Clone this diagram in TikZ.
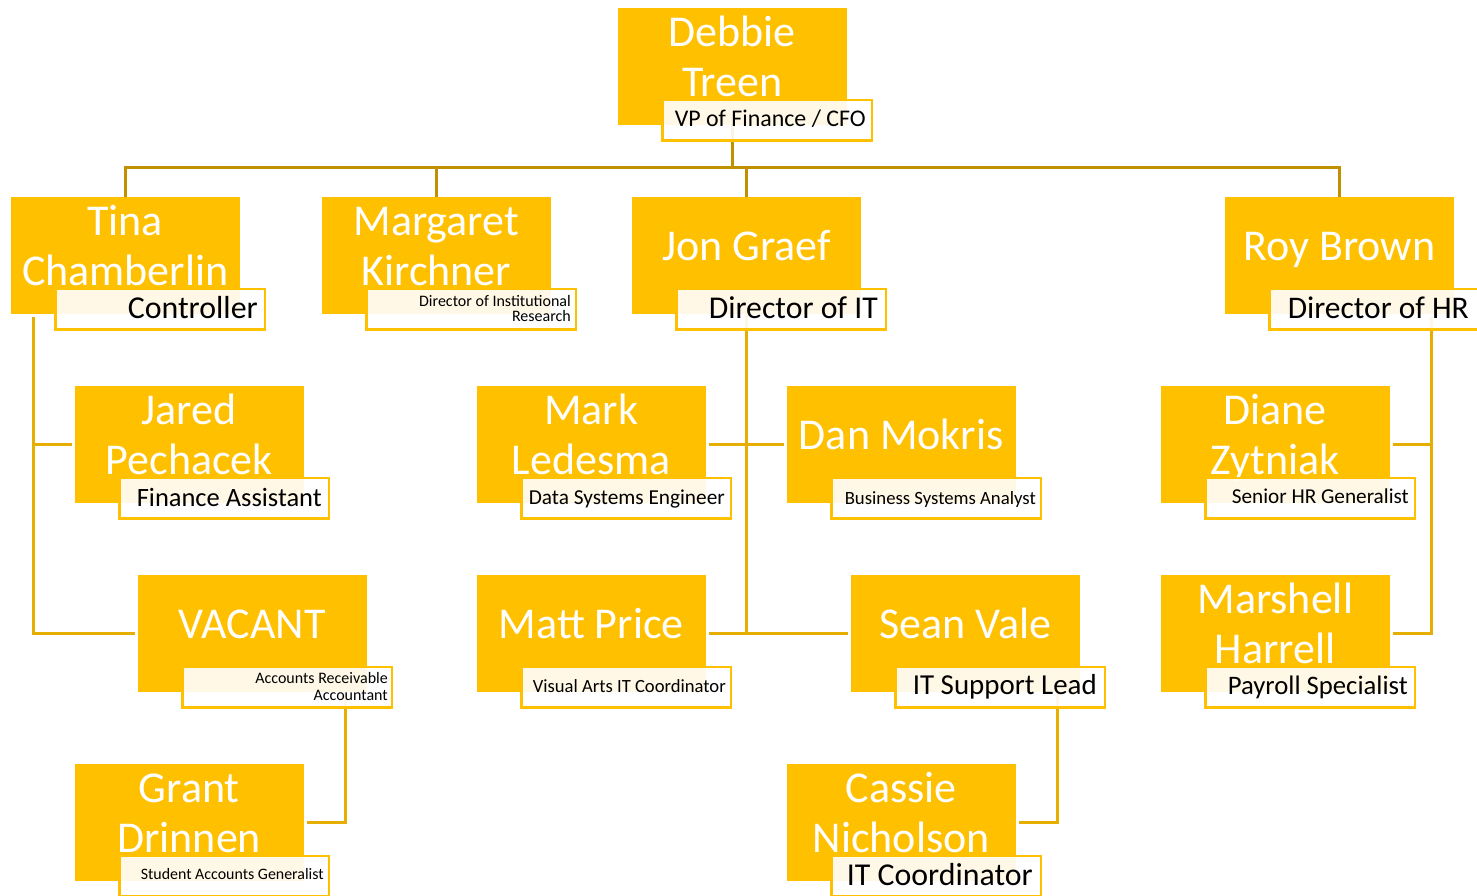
\documentclass[tikz,border=0pt]{standalone}
\usepackage{fontspec}
\setmainfont{Carlito}
\usepackage{graphicx}
\usetikzlibrary{calc}
\pgfdeclarelayer{bg}
\pgfsetlayers{bg,main}
\definecolor{gold}{HTML}{FFC000}
\definecolor{toplinecol}{HTML}{BF9000}
\definecolor{lowlinecol}{HTML}{E6AE00}
\tikzset{
  ybox/.style={fill=gold, draw=none, minimum width=228.5pt, minimum height=117pt, anchor=north west, inner sep=0pt, outer sep=0pt},
  tbox/.style={fill=white, fill opacity=0.9, draw=gold, line width=2.5pt, minimum width=209.5pt, minimum height=40.5pt, anchor=north west, inner sep=0pt, outer sep=0pt},
  nametxt/.style={text=white, font=\fontsize{44}{50}\selectfont, inner sep=0pt, anchor=base},
  ttxt/.style={text=black, font=\fontsize{20}{24}\selectfont, inner sep=0pt, anchor=base east},
  topln/.style={draw=toplinecol, line width=3pt},
  lowln/.style={draw=lowlinecol, line width=3pt}
}
\newcommand\orgbox[3]{\node[ybox] (#1) at (#2,#3) {};}
\newcommand\nameone[2]{\node[nametxt] (#1-n) at ($(#1.north)+(0,63)$) {#2};}
\newcommand\nametwo[3]{\node[nametxt] (#1-n) at ($(#1.north)+(0,38)$) {\begin{tabular}[t]{@{}c@{}}#2\\#3\end{tabular}};}
\newcommand\titleone[5]{\node[tbox] (#1-t) at ($(#1.south west)+(44.5,-25)$) {};
  \node[ttxt] (#1-tt) at ($(#1-t.north east)+(-#4,#5)$) {\resizebox{#2pt}{!}{#3}};}
\newcommand\titletwo[6]{\node[tbox] (#1-t) at ($(#1.south west)+(44.5,-25)$) {};
  \node[ttxt, font=\fontsize{16}{#6}\selectfont] (#1-tt) at ($(#1-t.north east)+(-#4,#5)$) {\begin{tabular}[t]{@{}r@{}}#2\\#3\end{tabular}};}
\begin{document}
\begin{tikzpicture}[x=1pt,y=-1pt]
\useasboundingbox (0,0) rectangle (1477,895);
% boxes
\orgbox{debbie}{618}{8}\nametwo{debbie}{Debbie}{Treen}
\titleone{debbie}{191}{VP of Finance / CFO}{6}{26.5}
\orgbox{tina}{11}{197}\nametwo{tina}{Tina}{Chamberlin}
\titleone{tina}{130}{Controller}{7}{29}
\orgbox{margaret}{322}{197}\nametwo{margaret}{Margaret}{Kirchner}
\titletwo{margaret}{Director of Institutional}{Research}{5}{17}{15}
\orgbox{jon}{632}{197}\nameone{jon}{Jon Graef}
\titleone{jon}{169}{Director of IT}{8}{29}
\orgbox{roy}{1225}{197}\nameone{roy}{Roy Brown}
\titleone{roy}{181}{Director of HR}{10}{29}
\orgbox{jared}{75}{386}\nametwo{jared}{Jared}{Pechacek}
\titleone{jared}{185}{Finance Assistant}{7}{28}
\orgbox{mark}{477}{386}\nametwo{mark}{Mark}{Ledesma}
\titleone{mark}{196}{Data Systems Engineer}{6}{26}
\orgbox{dan}{787}{386}\nameone{dan}{Dan Mokris}
\titleone{dan}{191}{Business Systems Analyst}{5}{26}
\orgbox{diane}{1161}{386}\nametwo{diane}{Diane}{Zytniak}
\titleone{diane}{177}{Senior HR Generalist}{6}{25}
\orgbox{vacant}{138}{575}\nameone{vacant}{VACANT}
\titletwo{vacant}{Accounts Receivable}{Accountant}{4}{16}{17}
\orgbox{matt}{477}{575}\nameone{matt}{Matt Price}
\titleone{matt}{193}{Visual Arts IT Coordinator}{5}{25}
\orgbox{sean}{851}{575}\nameone{sean}{Sean Vale}
\titleone{sean}{184}{IT Support Lead}{8}{27}
\orgbox{marshell}{1161}{575}\nametwo{marshell}{Marshell}{Harrell}
\titleone{marshell}{180}{Payroll Specialist}{7}{27}
\orgbox{grant}{75}{764}\nametwo{grant}{Grant}{Drinnen}
\titleone{grant}{183}{Student Accounts Generalist}{5}{23}
\orgbox{cassie}{787}{764}\nametwo{cassie}{Cassie}{Nicholson}
\titleone{cassie}{186}{IT Coordinator}{8}{29}
% connectors
\coordinate (bus) at (0,167);
\coordinate (tv) at ($(tina.south west)+(22,0)$);
\coordinate (rv) at ($(roy.south east)+(-22,0)$);
\coordinate (vv) at ($(vacant.south east)+(-21,0)$);
\coordinate (sv) at ($(sean.south east)+(-22,0)$);
\begin{pgfonlayer}{bg}
\draw[topln] (debbie.south) -- (debbie.south |- bus);
\draw[topln] (tina.north) -- (tina.north |- bus) -| (roy.north);
\draw[topln] (margaret.north) -- (margaret.north |- bus);
\draw[topln] (jon.north) -- (jon.north |- bus);
\draw[lowln, shorten <=3pt, shorten >=3pt] (tv) |- (vacant.west);
\draw[lowln, shorten >=3pt] (tv |- jared.west) -- (jared.west);
\draw[lowln] (jon.south) -- (jon.south |- matt.east);
\draw[lowln, shorten <=3pt, shorten >=3pt] (mark.east) -- (dan.west);
\draw[lowln, shorten <=3pt, shorten >=3pt] (matt.east) -- (sean.west);
\draw[lowln, shorten <=3pt, shorten >=3pt] (rv) |- (marshell.east);
\draw[lowln, shorten <=3pt] (diane.east) -- (rv |- diane.east);
\draw[lowln, shorten >=3pt] (vv) |- (grant.east);
\draw[lowln, shorten >=3pt] (sv) |- (cassie.east);
\end{pgfonlayer}
\end{tikzpicture}
\end{document}
